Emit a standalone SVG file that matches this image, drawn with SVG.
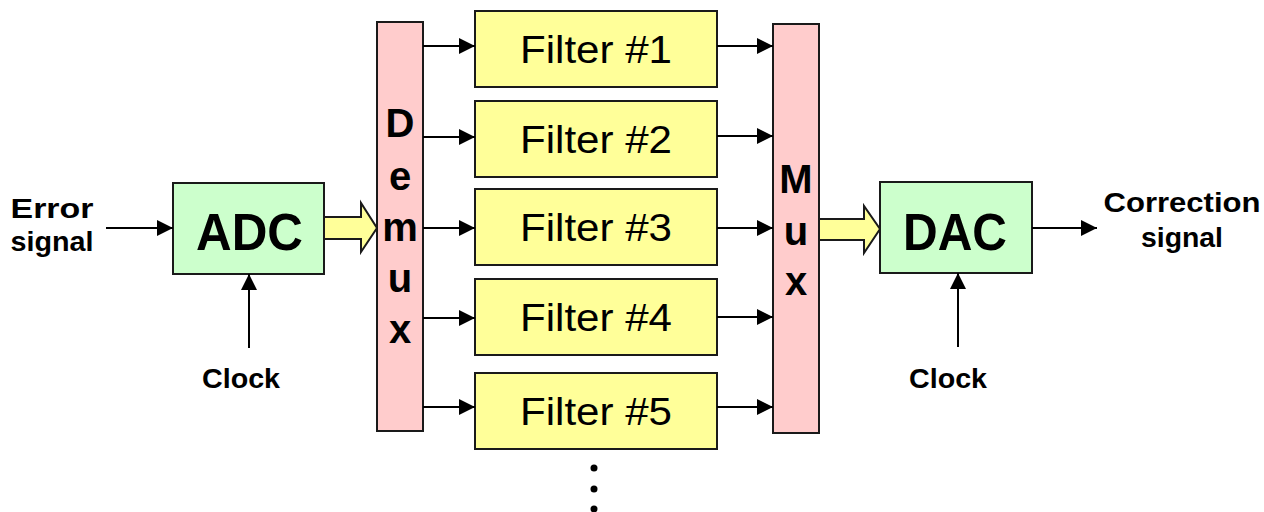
<svg xmlns="http://www.w3.org/2000/svg" width="1264" height="512" viewBox="0 0 1264 512">
<style>
.box{stroke:#1a1a1a;stroke-width:2}
.conv{fill:#ccffcc}
.filt{fill:#ffff99}
.mux{fill:#ffcccc}
.fat{fill:#ffff99;stroke:#1a1a1a;stroke-width:2;stroke-linejoin:miter}
.ln{stroke:#000;stroke-width:2;fill:none}
.lab{font-family:"Liberation Sans",Arial,sans-serif;font-weight:bold;fill:#000}
.ft{font-family:"Liberation Sans",Arial,sans-serif;font-size:38px;fill:#000;text-anchor:middle}
.big{font-family:"Liberation Sans",Arial,sans-serif;font-weight:bold;font-size:52px;fill:#000;text-anchor:middle}
.vl{font-family:"Liberation Sans",Arial,sans-serif;font-weight:bold;font-size:40px;fill:#000;text-anchor:middle}
.sm{font-size:28px;text-anchor:middle}
</style>
<defs>
<marker id="ah" markerUnits="userSpaceOnUse" markerWidth="17" markerHeight="16" refX="16" refY="8" orient="auto">
<path d="M0,0 L16,8 L0,16 z" fill="#000"/>
</marker>
</defs>

<g id="error-label">
<text class="lab sm" x="52" y="218" textLength="83" lengthAdjust="spacingAndGlyphs">Error</text>
<text class="lab sm" x="52" y="251" textLength="83" lengthAdjust="spacingAndGlyphs">signal</text>
</g>

<g id="adc">
<rect class="box conv" x="173" y="183" width="151" height="91"/>
<text class="big" x="249.5" y="250" textLength="107" lengthAdjust="spacingAndGlyphs">ADC</text>
</g>

<g id="clock-adc">
<text class="lab sm" x="241" y="388" textLength="78" lengthAdjust="spacingAndGlyphs">Clock</text>
</g>

<g id="demux">
<rect class="box mux" x="377" y="22" width="46" height="409"/>
<text class="vl" x="400" y="137">D</text>
<text class="vl" x="400" y="190">e</text>
<text class="vl" x="400" y="241">m</text>
<text class="vl" x="400" y="292">u</text>
<text class="vl" x="400" y="343">x</text>
</g>

<g id="filter1">
<rect class="box filt" x="475" y="11" width="242" height="76"/>
<text class="ft" x="596" y="63" textLength="152" lengthAdjust="spacingAndGlyphs">Filter #1</text>
</g>
<g id="filter2">
<rect class="box filt" x="475" y="101" width="242" height="76"/>
<text class="ft" x="596" y="153" textLength="152" lengthAdjust="spacingAndGlyphs">Filter #2</text>
</g>
<g id="filter3">
<rect class="box filt" x="475" y="189" width="242" height="76"/>
<text class="ft" x="596" y="241" textLength="152" lengthAdjust="spacingAndGlyphs">Filter #3</text>
</g>
<g id="filter4">
<rect class="box filt" x="475" y="279" width="242" height="76"/>
<text class="ft" x="596" y="331" textLength="152" lengthAdjust="spacingAndGlyphs">Filter #4</text>
</g>
<g id="filter5">
<rect class="box filt" x="475" y="373" width="242" height="76"/>
<text class="ft" x="596" y="425" textLength="152" lengthAdjust="spacingAndGlyphs">Filter #5</text>
</g>

<g id="mux">
<rect class="box mux" x="773" y="24" width="46" height="409"/>
<text class="vl" x="796" y="193">M</text>
<text class="vl" x="796" y="245">u</text>
<text class="vl" x="796" y="295">x</text>
</g>

<g id="dac">
<rect class="box conv" x="880" y="182" width="152" height="91"/>
<text class="big" x="955" y="250" textLength="104" lengthAdjust="spacingAndGlyphs">DAC</text>
</g>

<g id="clock-dac">
<text class="lab sm" x="948" y="388" textLength="78" lengthAdjust="spacingAndGlyphs">Clock</text>
</g>

<g id="correction-label">
<text class="lab sm" x="1182" y="212" textLength="157" lengthAdjust="spacingAndGlyphs">Correction</text>
<text class="lab sm" x="1182" y="247" textLength="82" lengthAdjust="spacingAndGlyphs">signal</text>
</g>

<g id="ellipsis">
<circle cx="594" cy="468" r="3.5" fill="#000"/>
<circle cx="594" cy="489" r="3.5" fill="#000"/>
<circle cx="594" cy="509" r="3.5" fill="#000"/>
</g>

<g id="connectors">
<line class="ln" x1="106" y1="228" x2="173" y2="228" marker-end="url(#ah)"/>
<line class="ln" x1="249" y1="348" x2="249" y2="274" marker-end="url(#ah)"/>
<line class="ln" x1="958" y1="347" x2="958" y2="273" marker-end="url(#ah)"/>
<line class="ln" x1="1032" y1="228" x2="1097" y2="228" marker-end="url(#ah)"/>

<line class="ln" x1="423" y1="46" x2="475" y2="46" marker-end="url(#ah)"/>
<line class="ln" x1="423" y1="137" x2="475" y2="137" marker-end="url(#ah)"/>
<line class="ln" x1="423" y1="228" x2="475" y2="228" marker-end="url(#ah)"/>
<line class="ln" x1="423" y1="318" x2="475" y2="318" marker-end="url(#ah)"/>
<line class="ln" x1="423" y1="407" x2="475" y2="407" marker-end="url(#ah)"/>

<line class="ln" x1="717" y1="46" x2="773" y2="46" marker-end="url(#ah)"/>
<line class="ln" x1="717" y1="136" x2="773" y2="136" marker-end="url(#ah)"/>
<line class="ln" x1="717" y1="228" x2="773" y2="228" marker-end="url(#ah)"/>
<line class="ln" x1="717" y1="317" x2="773" y2="317" marker-end="url(#ah)"/>
<line class="ln" x1="717" y1="407" x2="773" y2="407" marker-end="url(#ah)"/>

<path class="fat" d="M324,217 L361,217 L361,203 L377,228 L361,252 L361,239 L324,239 Z"/>
<path class="fat" d="M819,219 L864,219 L864,206 L880,229 L864,253 L864,240 L819,240 Z"/>
</g>
</svg>
